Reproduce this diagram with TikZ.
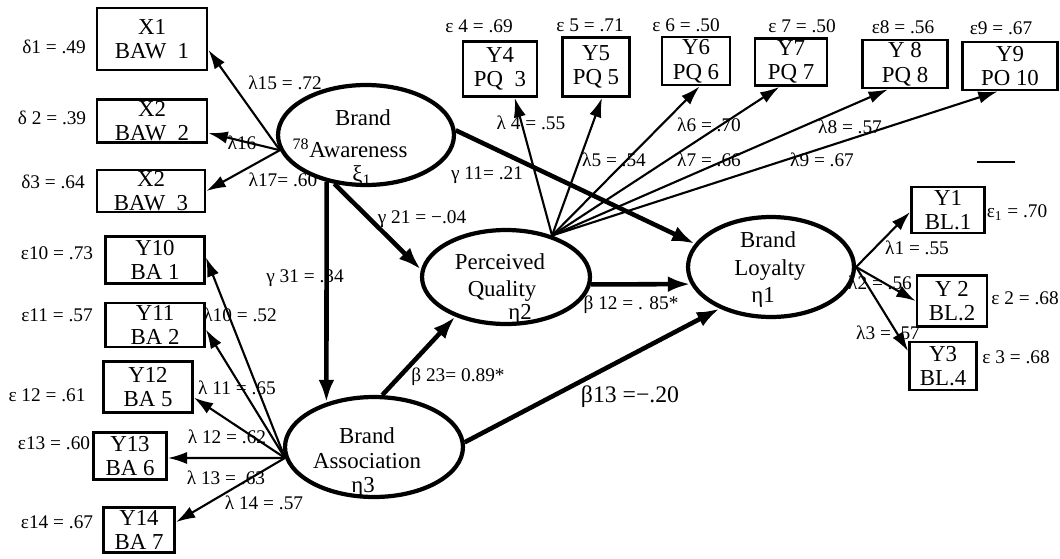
\documentclass[tikz,border=0pt]{standalone}
\usepackage{fontspec}
\setmainfont{Liberation Serif}
\usetikzlibrary{shapes.geometric,arrows.meta,calc}
\begin{document}
\begin{tikzpicture}[x=0.02cm,y=-0.02cm,
  box/.style={draw, line width=1.6pt, inner sep=0pt},
  btxt/.style={align=center, inner sep=0pt, font=\fontsize{13}{14}\selectfont},
  lv/.style={draw, ellipse, line width=2.4pt, inner sep=0pt},
  lab/.style={inner sep=0pt, font=\fontsize{11}{12}\selectfont},
  etxt/.style={inner sep=0pt, font=\fontsize{13}{14}\selectfont},
  load/.style={line width=1.2pt, -{Latex[length=11pt,width=7pt]}},
  spath/.style={line width=2.6pt, -{Latex[length=13pt,width=9pt]}}]
\useasboundingbox (0,0) rectangle (1060,558);
\fill[white] (0,0) rectangle (1060,558);

% latent variables
\node[lv, minimum width=3.52cm, minimum height=2.0cm] (ba) at (366,135) {};
\node[lv, minimum width=3.36cm, minimum height=1.88cm] (pq) at (506,277) {};
\node[lv, minimum width=3.56cm, minimum height=2.0cm] (bas) at (374,447) {};
\node[lv, minimum width=3.32cm, minimum height=2.0cm] (bl) at (771,267) {};

\node[etxt] (ba1) at (363,118) {Brand};
\node[etxt] (ba2) at (350,148) {\textsuperscript{78}Awareness};
\node[etxt] (ba3) at (362,176) {ξ\textsubscript{1}};
\node[etxt] (pq1) at (500,262) {Perceived};
\node[etxt] (pq2) at (502,291) {Quality};
\node[etxt] (pq3) at (520,314) {η2};
\node[etxt] (bas1) at (367,436) {Brand};
\node[etxt] (bas2) at (367,461) {Association};
\node[etxt] (bas3) at (363,487) {η3};
\node[etxt] (bl1) at (768,240) {Brand};
\node[etxt] (bl2) at (770,270) {Loyalty};
\node[etxt] (bl3) at (763,297) {η1};

% indicator boxes
\node[box, minimum width=2.2cm, minimum height=1.24cm, label={[btxt]center:{X1\\BAW\ \ 1}}] (x1) at (152,39) {};
\node[box, minimum width=2.2cm, minimum height=0.86cm, label={[btxt]center:{X2\\BAW\ \ 2}}] (x2) at (152,121) {};
\node[box, minimum width=2.16cm, minimum height=0.84cm, label={[btxt]center:{X2\\BAW\ \ 3}}] (x3) at (151,191) {};
\node[box, minimum width=1.98cm, minimum height=0.94cm, label={[btxt]center:{Y10\\BA 1}}] (y10) at (155,260) {};
\node[box, minimum width=1.98cm, minimum height=0.88cm, label={[btxt]center:{Y11\\BA 2}}] (y11) at (155,325) {};
\node[box, minimum width=1.78cm, minimum height=1.02cm, label={[btxt]center:{Y12\\BA 5}}] (y12) at (148,387) {};
\node[box, minimum width=1.46cm, minimum height=0.94cm, label={[btxt]center:{Y13\\BA 6}}] (y13) at (130,456) {};
\node[box, minimum width=1.42cm, minimum height=0.9cm, label={[btxt]center:{Y14\\BA 7}}] (y14) at (139,530) {};
\node[box, minimum width=1.48cm, minimum height=1.1cm, label={[btxt]center:{Y4\\PQ\ \ 3}}] (y4) at (500,69) {};
\node[box, minimum width=1.34cm, minimum height=1.18cm, label={[btxt]center:{Y5\\PQ 5}}] (y5) at (596,67) {};
\node[box, minimum width=1.36cm, minimum height=0.96cm, label={[btxt]center:{Y6\\PQ 6}}] (y6) at (696,61) {};
\node[box, minimum width=1.44cm, minimum height=0.94cm, label={[btxt]center:{Y7\\PQ 7}}] (y7) at (791,62) {};
\node[box, minimum width=1.7cm, minimum height=0.96cm, label={[btxt]center:{Y 8\\PQ 8}}] (y8) at (905,64) {};
\node[box, minimum width=1.9cm, minimum height=0.96cm, label={[btxt]center:{Y9\\PO 10}}] (y9) at (1010,66) {};
\node[box, minimum width=1.46cm, minimum height=0.92cm, label={[btxt]center:{Y1\\BL.1}}] (y1) at (948,210) {};
\node[box, minimum width=1.4cm, minimum height=1.02cm, label={[btxt]center:{Y 2\\BL.2}}] (y2) at (952,301) {};
\node[box, minimum width=1.34cm, minimum height=0.96cm, label={[btxt]center:{Y3\\BL.4}}] (y3) at (943,366) {};

% loadings
\draw[load] (ba.190) -- (x1.-11);
\draw[load] (ba.190) -- (x2.-12);
\draw[load] (ba.190) -- (x3.east);
\draw[load] (bas.187) -- (y10.3);
\draw[load] (bas.187) -- (y11.-5);
\draw[load] (bas.187) -- (y12.-13);
\draw[load] (bas.187) -- (y13.-3);
\draw[load] (bas.187) -- (y14.12);
\draw[load] (pq.42) -- (y4.-63);
\draw[load] (pq.42) -- (y5.-79);
\draw[load] (pq.42) -- (y6.-82);
\draw[load] (pq.42) -- (y7.-115);
\draw[load] (pq.42) -- (y8.-124);
\draw[load] (pq.42) -- (y9.-116);
\draw[load] (bl.east) -- (y1.183);
\draw[load] (bl.east) -- (y2.west);
\draw[load] (bl.east) -- (y3.157);

% structural paths
\draw[spath] (ba.3) -- (bl.163);
\draw[spath] (ba.237) -- (pq.175);
\draw[spath] (ba.230) -- (bas.137);
\draw[spath] (pq.-5) -- (bl.192);
\draw[spath] (bas.81) -- (pq.218);
\draw[spath] (bas.3) -- (bl.219);

% error labels
\node[lab] (d1) at (54,47) {δ1 = .49};
\node[lab] (d2) at (52,118) {δ 2 = .39};
\node[lab] (d3) at (53,182) {δ3 = .64};
\node[lab] (e10) at (57,253) {ε10 = .73};
\node[lab] (e11) at (57,315) {ε11 = .57};
\node[lab] (e12) at (47,395) {ε 12 = .61};
\node[lab] (e13) at (54,443) {ε13 = .60};
\node[lab] (e14) at (57,522) {ε14 = .67};
\node[lab] (e4) at (479,26) {ε 4 = .69};
\node[lab] (e5) at (590,25) {ε 5 = .71};
\node[lab] (e6) at (686,25) {ε 6 = .50};
\node[lab] (e7) at (802,26) {ε 7 = .50};
\node[lab] (e8) at (903,27) {ε8 = .56};
\node[lab] (e9) at (1001,28) {ε9 = .67};
\node[lab] (e1) at (1017,213) {ε\textsubscript{1} = .70};
\node[lab, anchor=west] (e2) at (991,298) {ε 2 = .68};
\node[lab, anchor=west] (e3) at (982,357) {ε 3 = .68};

% loading labels
\node[lab] (l15) at (285,83) {λ15 = .72};
\node[lab] (l16) at (242,143) {λ16};
\node[lab] (l17) at (283,180) {λ17= .60};
\node[lab] (l10) at (240,315) {λ10 = .52};
\node[lab] (l11) at (237,388) {λ 11 = .65};
\node[lab] (l12) at (227,437) {λ 12 = .62};
\node[lab] (l13) at (226,478) {λ 13 = .63};
\node[lab] (l14) at (264,503) {λ 14 = .57};
\node[lab] (l4) at (531,123) {λ 4 = .55};
\node[lab] (l5) at (614,160) {λ5 = .54};
\node[lab] (l6) at (709,125) {λ6 = .70};
\node[lab] (l7) at (709,160) {λ7 = .66};
\node[lab] (l8) at (850,127) {λ8 = .57};
\node[lab] (l9) at (822,160) {λ9 = .67};
\node[lab] (l1) at (917,248) {λ1 = .55};
\node[lab] (l2) at (880,283) {λ2 = .56};
\node[lab] (l3) at (888,333) {λ3 = .57};

% path labels
\node[lab] (g11) at (487,175) {γ 11= .21};
\node[lab] (g21) at (422,219) {γ 21 = −.04};
\node[lab] (g31) at (305,278) {γ 31 = .34};
\node[lab] (b12) at (631,305) {β 12 = . 85*};
\node[lab] (b23) at (458,377) {β 23= 0.89*};
\node[inner sep=0pt, font=\fontsize{13.5}{14}\selectfont] (b13) at (630,397) {β13 =−.20};

% small dash mark
\draw[line width=1.6pt] (977,162) -- (1015,162);
\end{tikzpicture}
\end{document}
